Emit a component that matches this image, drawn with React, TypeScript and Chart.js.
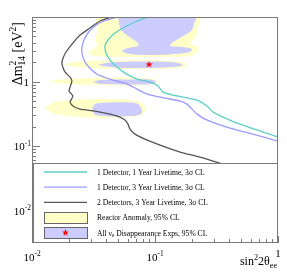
import React, { useEffect, useRef } from "react";
import { Chart, registerables } from "chart.js";

Chart.register(...registerables);

type Pt = { x: number; y: number };

// ---- sensitivity curves (sin^2 2theta_ee, dm^2_14 [eV^2]) ----
const curve1Det1Yr: Pt[] = [
  { x: 0.0877, y: 10 }, { x: 0.0688, y: 8.37 }, { x: 0.057, y: 7.0 }, { x: 0.0473, y: 5.65 },
  { x: 0.0415, y: 4.4 }, { x: 0.0392, y: 3.55 }, { x: 0.04, y: 2.77 }, { x: 0.0431, y: 2.154 },
  { x: 0.0491, y: 1.678 }, { x: 0.057, y: 1.354 }, { x: 0.0714, y: 1.094 }, { x: 0.0911, y: 0.982 },
  { x: 0.1058, y: 0.851 }, { x: 0.1162, y: 0.687 }, { x: 0.1401, y: 0.617 }, { x: 0.2195, y: 0.517 },
  { x: 0.2648, y: 0.417 }, { x: 0.2962, y: 0.337 }, { x: 0.357, y: 0.282 }, { x: 0.491, y: 0.219 },
  { x: 1.0, y: 0.1379 },
];
const curve1Det3Yr: Pt[] = [
  { x: 0.05, y: 10 }, { x: 0.0385, y: 8.67 }, { x: 0.0325, y: 7.25 }, { x: 0.0285, y: 5.65 },
  { x: 0.0265, y: 4.4 }, { x: 0.0255, y: 3.43 }, { x: 0.0255, y: 2.77 }, { x: 0.0265, y: 2.154 },
  { x: 0.0285, y: 1.74 }, { x: 0.0338, y: 1.3 }, { x: 0.0456, y: 1.055 }, { x: 0.0592, y: 0.915 },
  { x: 0.0714, y: 0.765 }, { x: 0.0861, y: 0.64 }, { x: 0.1206, y: 0.555 }, { x: 0.1597, y: 0.499 },
  { x: 0.182, y: 0.447 }, { x: 0.2037, y: 0.361 }, { x: 0.2195, y: 0.313 }, { x: 0.255, y: 0.262 },
  { x: 0.307, y: 0.227 }, { x: 0.407, y: 0.19 }, { x: 0.626, y: 0.1535 }, { x: 1.0, y: 0.1197 },
];
const curve2Det3Yr: Pt[] = [
  { x: 0.0447, y: 10 }, { x: 0.0357, y: 8.67 }, { x: 0.0296, y: 6.75 }, { x: 0.0246, y: 5.26 },
  { x: 0.0215, y: 3.95 }, { x: 0.0189, y: 2.87 }, { x: 0.0179, y: 2.32 }, { x: 0.0175, y: 1.94 },
  { x: 0.0179, y: 1.62 }, { x: 0.0186, y: 1.4 }, { x: 0.0204, y: 1.17 }, { x: 0.0211, y: 1.02 },
  { x: 0.0204, y: 0.82 }, { x: 0.02, y: 0.713 }, { x: 0.0215, y: 0.596 }, { x: 0.0204, y: 0.481 },
  { x: 0.0215, y: 0.417 }, { x: 0.0246, y: 0.375 }, { x: 0.0325, y: 0.349 }, { x: 0.0431, y: 0.313 },
  { x: 0.0519, y: 0.282 }, { x: 0.057, y: 0.253 }, { x: 0.0603, y: 0.219 }, { x: 0.0626, y: 0.1835 },
  { x: 0.0688, y: 0.1535 }, { x: 0.0829, y: 0.128 }, { x: 0.11, y: 0.1036 }, { x: 0.16, y: 0.081 },
  { x: 0.232, y: 0.0675 }, { x: 0.357, y: 0.0526 }, { x: 0.592, y: 0.0395 }, { x: 1.0, y: 0.0297 },
];

// ---- reactor anomaly allowed regions (95% CL) ----
const anomalyUpper: Pt[] = [
  { x: 0.0325, y: 11 }, { x: 0.2237, y: 11 }, { x: 0.2237, y: 6.75 }, { x: 0.2115, y: 4.73 },
  { x: 0.1926, y: 3.95 }, { x: 0.2237, y: 3.43 }, { x: 0.2195, y: 2.87 }, { x: 0.1926, y: 2.49 },
  { x: 0.1098, y: 2.4 }, { x: 0.0519, y: 2.4 }, { x: 0.0325, y: 2.49 }, { x: 0.0285, y: 2.77 },
  { x: 0.0313, y: 3.19 }, { x: 0.0338, y: 3.68 }, { x: 0.0325, y: 4.73 }, { x: 0.0344, y: 6.29 },
  { x: 0.0331, y: 8.37 },
];
const anomalyBand18: Pt[] = [
  { x: 0.0179, y: 1.835 }, { x: 0.0224, y: 2.006 }, { x: 0.0357, y: 2.116 }, { x: 0.0911, y: 2.154 },
  { x: 0.1454, y: 2.078 }, { x: 0.1754, y: 1.936 }, { x: 0.1821, y: 1.803 }, { x: 0.1689, y: 1.649 },
  { x: 0.1098, y: 1.563 }, { x: 0.0357, y: 1.591 }, { x: 0.0224, y: 1.678 },
];
const anomalyBand10: Pt[] = [
  { x: 0.0135, y: 1.0 }, { x: 0.0169, y: 1.074 }, { x: 0.0296, y: 1.133 }, { x: 0.0626, y: 1.153 },
  { x: 0.0945, y: 1.113 }, { x: 0.1058, y: 1.0 }, { x: 0.0945, y: 0.898 }, { x: 0.0626, y: 0.867 },
  { x: 0.0296, y: 0.882 }, { x: 0.0169, y: 0.931 },
];
const anomalyBand04: Pt[] = [
  { x: 0.01252, y: 0.388 }, { x: 0.01538, y: 0.481 }, { x: 0.0246, y: 0.526 }, { x: 0.0431, y: 0.536 },
  { x: 0.0626, y: 0.517 }, { x: 0.0784, y: 0.464 }, { x: 0.0845, y: 0.388 }, { x: 0.0799, y: 0.313 },
  { x: 0.0626, y: 0.2815 }, { x: 0.0357, y: 0.2716 }, { x: 0.0224, y: 0.2867 }, { x: 0.01538, y: 0.313 },
];

// ---- all anti-nu_e disappearance experiments allowed regions (95% CL) ----
const disappUpper: Pt[] = [
  { x: 0.05, y: 11 }, { x: 0.2154, y: 11 }, { x: 0.2075, y: 7.79 }, { x: 0.1999, y: 6.29 },
  { x: 0.1754, y: 5.26 }, { x: 0.1538, y: 4.56 }, { x: 0.1375, y: 3.95 }, { x: 0.1324, y: 3.55 },
  { x: 0.1658, y: 3.43 }, { x: 0.1999, y: 3.19 }, { x: 0.1926, y: 2.87 }, { x: 0.1454, y: 2.67 },
  { x: 0.0911, y: 2.576 }, { x: 0.0626, y: 2.67 }, { x: 0.0539, y: 2.97 }, { x: 0.0603, y: 3.31 },
  { x: 0.0728, y: 3.55 }, { x: 0.0728, y: 3.95 }, { x: 0.0675, y: 4.4 }, { x: 0.0603, y: 5.08 },
  { x: 0.0529, y: 6.29 }, { x: 0.051, y: 7.79 },
];
const disappBand18: Pt[] = [
  { x: 0.0344, y: 1.835 }, { x: 0.0431, y: 1.971 }, { x: 0.0755, y: 2.042 }, { x: 0.1324, y: 2.006 },
  { x: 0.1597, y: 1.901 }, { x: 0.1689, y: 1.803 }, { x: 0.1538, y: 1.708 }, { x: 0.0911, y: 1.62 },
  { x: 0.0473, y: 1.649 }, { x: 0.0378, y: 1.739 },
];
const disappBand10: Pt[] = [
  { x: 0.0313, y: 0.982 }, { x: 0.0357, y: 1.055 }, { x: 0.0626, y: 1.074 }, { x: 0.0911, y: 1.074 },
  { x: 0.1019, y: 1.0 }, { x: 0.0945, y: 0.915 }, { x: 0.0626, y: 0.898 }, { x: 0.0357, y: 0.915 },
];
const disappBand04: Pt[] = [
  { x: 0.0307, y: 0.361 }, { x: 0.0325, y: 0.448 }, { x: 0.0431, y: 0.4725 }, { x: 0.0626, y: 0.4725 },
  { x: 0.0728, y: 0.448 }, { x: 0.0784, y: 0.361 }, { x: 0.077, y: 0.313 }, { x: 0.0626, y: 0.2918 },
  { x: 0.0431, y: 0.287 }, { x: 0.0325, y: 0.3023 },
];
const bestFitPoint: Pt[] = [{ x: 0.0894, y: 1.835 }];

// ---- axes ----
const xRange = [0.01, 1];
const yRange = [0.00316, 10];
const xTickValues = [0.01, 0.1, 1];
const xTickLabels: [string, string][] = [["10", "-2"], ["10", "-1"], ["1", ""]];
const yTickValues = [0.01, 0.1, 1];
const yTickLabels: [string, string][] = [["10", "-2"], ["10", "-1"], ["1", ""]];

type Part = { t: string; k?: "sup" | "sub"; noAdv?: boolean };
const xTitle: Part[] = [{ t: "sin" }, { t: "2", k: "sup" }, { t: "2θ" }, { t: "ee", k: "sub" }];
const yTitle: Part[] = [
  { t: "Δm" }, { t: "2", k: "sup", noAdv: true }, { t: "14", k: "sub" },
  { t: " [eV" }, { t: "2", k: "sup" }, { t: "]" },
];

const legendLabels: Part[][] = [
  [{ t: "1 Detector, 1 Year Livetime, 3σ CL" }],
  [{ t: "1 Detector, 3 Year Livetime, 3σ CL" }],
  [{ t: "2 Detectors, 3 Year Livetime, 3σ CL" }],
  [{ t: "Reactor Anomaly, 95% CL" }],
  [{ t: "All ν" }, { t: "e", k: "sub" }, { t: " Disappearance Exps, 95% CL" }],
];

const C_CYAN = "#5ccfc6";
const C_PURPLE = "#9a9aff";
const C_GRAY = "#555555";
const C_YELLOW = "#ffffc8";
const C_LAV = "#ccccff";
const C_FRAME = "#7a7a7a";
const FONT = '"Liberation Serif", "Times New Roman", serif';

function makeStar(size: number, color: string): HTMLCanvasElement {
  const c = document.createElement("canvas");
  c.width = size;
  c.height = size;
  const g = c.getContext("2d")!;
  const cx = size / 2, cy = size / 2, R = size / 2, r = R * 0.45;
  g.beginPath();
  for (let i = 0; i < 10; i++) {
    const a = -Math.PI / 2 + (i * Math.PI) / 5;
    const rad = i % 2 === 0 ? R : r;
    g.lineTo(cx + rad * Math.cos(a), cy + rad * Math.sin(a));
  }
  g.closePath();
  g.fillStyle = color;
  g.fill();
  return c;
}

function pf(size: number, k?: string) {
  return `${k ? size * 0.68 : size}px ${FONT}`;
}
function richWidth(ctx: CanvasRenderingContext2D, parts: Part[], size: number) {
  let w = 0;
  for (const p of parts) {
    ctx.font = pf(size, p.k);
    if (!p.noAdv) w += ctx.measureText(p.t).width;
  }
  return w;
}
function drawRich(ctx: CanvasRenderingContext2D, parts: Part[], x: number, y: number, size: number, align: "left" | "center" | "right") {
  const w = richWidth(ctx, parts, size);
  let cx = align === "left" ? x : align === "center" ? x - w / 2 : x - w;
  ctx.textAlign = "left";
  ctx.textBaseline = "alphabetic";
  for (const p of parts) {
    ctx.font = pf(size, p.k);
    const dy = p.k === "sup" ? -size * 0.42 : p.k === "sub" ? size * 0.22 : 0;
    ctx.fillText(p.t, cx, y + dy);
    if (!p.noAdv) cx += ctx.measureText(p.t).width;
  }
}
function minorTicks(lo: number, hi: number): number[] {
  const out: number[] = [];
  for (let e = Math.floor(Math.log10(lo)); e <= Math.ceil(Math.log10(hi)); e++) {
    for (let k = 2; k <= 9; k++) {
      const v = k * Math.pow(10, e);
      if (v > lo && v < hi) out.push(v);
    }
  }
  return out;
}

export default function App() {
  const ref = useRef<HTMLCanvasElement | null>(null);
  useEffect(() => {
    document.body.style.margin = "0";
    const canvas = ref.current!;
    const star = makeStar(7, "#ff0000");

    const poly = (data: Pt[], color: string) => ({
      data, showLine: true, fill: "shape", backgroundColor: color,
      borderColor: "rgba(0,0,0,0)", borderWidth: 0, pointRadius: 0, tension: 0.3,
    });
    const line = (data: Pt[], color: string) => ({
      data, showLine: true, fill: false, borderColor: color, backgroundColor: color,
      borderWidth: 1.3, pointRadius: 0, tension: 0.2,
    });

    const legendSamples = [
      { kind: "line", color: C_CYAN },
      { kind: "line", color: C_PURPLE },
      { kind: "line", color: C_GRAY },
      { kind: "box", color: C_YELLOW },
      { kind: "box", color: C_LAV, star: true },
    ];

    const decor = {
      id: "rootDecor",
      afterDatasetsDraw(chart: any) {
        const { ctx, chartArea: a, scales } = chart;
        const xs = scales.x, ys = scales.y;
        ctx.save();
        ctx.strokeStyle = C_FRAME;
        ctx.lineWidth = 1;
        // left axis ticks
        ctx.beginPath();
        for (const v of minorTicks(yRange[0], yRange[1])) {
          const p = Math.round(ys.getPixelForValue(v)) + 0.5;
          ctx.moveTo(a.left, p); ctx.lineTo(a.left + 4, p);
        }
        for (const v of [...yTickValues, 10]) {
          const p = Math.round(ys.getPixelForValue(v)) + 0.5;
          ctx.moveTo(a.left, p); ctx.lineTo(a.left + 8, p);
        }
        ctx.stroke();

        // legend box
        const bl = a.left + 1.5, bt = a.bottom - 79.5, br = a.right - 0.5, bb = a.bottom - 0.5;
        ctx.fillStyle = "#ffffff";
        ctx.fillRect(bl, bt, br - bl, bb - bt);
        ctx.strokeStyle = C_FRAME;
        ctx.strokeRect(bl, bt, br - bl, bb - bt);
        const sx0 = a.left + 12, sx1 = a.left + 55, tx = a.left + 65;
        legendSamples.forEach((s, i) => {
          const ry = bt + 8.5 + i * 15.2;
          if (s.kind === "line") {
            ctx.strokeStyle = s.color;
            ctx.lineWidth = 1.3;
            ctx.beginPath();
            ctx.moveTo(sx0, ry); ctx.lineTo(sx1, ry);
            ctx.stroke();
          } else {
            ctx.fillStyle = s.color;
            ctx.fillRect(sx0 + 0.5, Math.round(ry - 5.5) + 0.5, sx1 - sx0, 11);
            ctx.strokeStyle = "#666666";
            ctx.lineWidth = 1;
            ctx.strokeRect(sx0 + 0.5, Math.round(ry - 5.5) + 0.5, sx1 - sx0, 11);
            if ((s as any).star) ctx.drawImage(star, (sx0 + sx1) / 2 - 3.5, ry - 3.5);
          }
          ctx.fillStyle = "#000000";
          drawRich(ctx, legendLabels[i], tx, ry + 2.7, 7.6, "left");
        });

        // bottom axis ticks
        ctx.strokeStyle = C_FRAME;
        ctx.lineWidth = 1;
        ctx.beginPath();
        for (const v of minorTicks(xRange[0], xRange[1])) {
          const p = Math.round(xs.getPixelForValue(v)) + 0.5;
          ctx.moveTo(p, a.bottom); ctx.lineTo(p, a.bottom - 4);
        }
        for (const v of xTickValues) {
          const p = Math.round(xs.getPixelForValue(v)) + 0.5;
          ctx.moveTo(p, a.bottom); ctx.lineTo(p, a.bottom - 7);
        }
        ctx.stroke();

        // frame
        ctx.strokeRect(a.left + 0.5, a.top + 0.5, a.right - a.left - 1, a.bottom - a.top - 1);
        ctx.restore();
      },
      afterDraw(chart: any) {
        const { ctx, chartArea: a, scales } = chart;
        const xs = scales.x, ys = scales.y;
        ctx.save();
        ctx.fillStyle = "#000000";
        xTickValues.forEach((v, i) => {
          const [b, e] = xTickLabels[i];
          const parts: Part[] = e ? [{ t: b }, { t: e, k: "sup" }] : [{ t: b }];
          const base = e ? a.bottom + 18 : a.bottom + 14;
          drawRich(ctx, parts, xs.getPixelForValue(v), base, 11, "center");
        });
        yTickValues.forEach((v, i) => {
          const [b, e] = yTickLabels[i];
          const parts: Part[] = e ? [{ t: b }, { t: e, k: "sup" }] : [{ t: b }];
          drawRich(ctx, parts, e ? a.left - 1 : a.left - 3, ys.getPixelForValue(v) + 4, 11, "right");
        });
        drawRich(ctx, xTitle, a.right - 1, a.bottom + 22, 12, "right");
        ctx.translate(22, a.top + 5);
        ctx.rotate(-Math.PI / 2);
        drawRich(ctx, yTitle, 0, 0, 14, "right");
        ctx.restore();
      },
    };

    const chart = new Chart(canvas, {
      type: "scatter",
      data: {
        datasets: [
          { data: bestFitPoint, pointStyle: star, pointRadius: 4, showLine: false, backgroundColor: "#ff0000", borderColor: "#ff0000" } as any,
          line(curve1Det1Yr, C_CYAN),
          line(curve1Det3Yr, C_PURPLE),
          line(curve2Det3Yr, C_GRAY),
          poly(disappUpper, C_LAV),
          poly(disappBand18, C_LAV),
          poly(disappBand10, C_LAV),
          poly(disappBand04, C_LAV),
          poly(anomalyUpper, C_YELLOW),
          poly(anomalyBand18, C_YELLOW),
          poly(anomalyBand10, C_YELLOW),
          poly(anomalyBand04, C_YELLOW),
        ] as any,
      },
      options: {
        responsive: false,
        animation: false,
        devicePixelRatio: 1,
        events: [],
        layout: { padding: { left: 32, top: 17, right: 9, bottom: 29 } },
        scales: {
          x: { type: "logarithmic", min: xRange[0], max: xRange[1], display: false },
          y: { type: "logarithmic", min: yRange[0], max: yRange[1], display: false },
        },
        plugins: { legend: { display: false }, tooltip: { enabled: false } },
      } as any,
      plugins: [decor],
    });
    return () => chart.destroy();
  }, []);
  return <canvas ref={ref} width={287} height={272} style={{ display: "block" }} />;
}
